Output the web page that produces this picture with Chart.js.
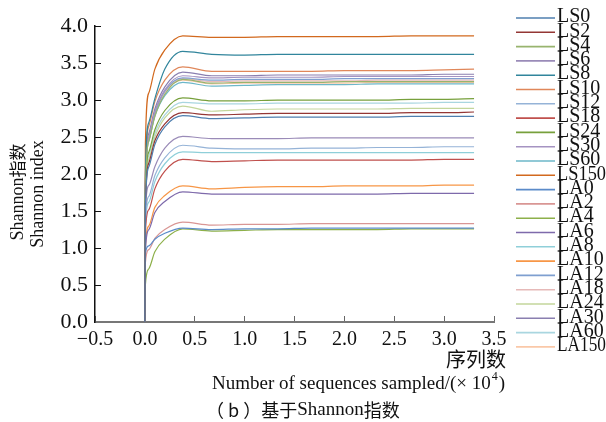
<!DOCTYPE html>
<html>
<head>
<meta charset="utf-8">
<script src="https://cdn.jsdelivr.net/npm/chart.js@4/dist/chart.umd.min.js"></script>
<style>
  body { margin: 0; background: #fff; }
  canvas { display: block; }
</style>
</head>
<body>
<canvas id="chart" width="606" height="422"></canvas>
<script>
// Curvas de rarefacción - índice de Shannon
const xs = [0, 0.005, 0.04, 0.1, 0.2, 0.38, 0.67, 1.0, 1.33, 1.67, 2.0, 2.33, 2.67, 3.0, 3.3];

const seriesNames = ['LS0', 'LS2', 'LS4', 'LS6', 'LS8', 'LS10', 'LS12', 'LS18', 'LS24', 'LS30', 'LS60', 'LS150',
                     'LA0', 'LA2', 'LA4', 'LA6', 'LA8', 'LA10', 'LA12', 'LA18', 'LA24', 'LA30', 'LA60', 'LA150'];

const LS0   = [0, 1.55, 2.10, 2.40, 2.64, 2.79, 2.75, 2.76, 2.77, 2.77, 2.77, 2.77, 2.78, 2.78, 2.78];
const LS2   = [0, 1.55, 2.15, 2.45, 2.68, 2.83, 2.80, 2.81, 2.82, 2.82, 2.82, 2.82, 2.83, 2.83, 2.84];
const LS4   = [0, 1.75, 2.45, 2.78, 3.08, 3.28, 3.23, 3.24, 3.24, 3.24, 3.25, 3.25, 3.25, 3.25, 3.25];
const LS6   = [0, 1.50, 1.85, 2.10, 2.35, 2.51, 2.48, 2.48, 2.48, 2.49, 2.49, 2.49, 2.49, 2.49, 2.49];
const LS8   = [0, 2.00, 2.70, 3.02, 3.42, 3.66, 3.62, 3.61, 3.62, 3.62, 3.62, 3.62, 3.62, 3.62, 3.62];
const LS10  = [0, 1.95, 2.65, 2.98, 3.27, 3.45, 3.39, 3.39, 3.39, 3.39, 3.40, 3.40, 3.40, 3.41, 3.42];
const LS12  = [0, 1.35, 1.70, 1.98, 2.22, 2.39, 2.35, 2.34, 2.34, 2.35, 2.35, 2.36, 2.36, 2.37, 2.37];
const LS18  = [0, 1.20, 1.52, 1.80, 2.04, 2.20, 2.17, 2.18, 2.19, 2.19, 2.19, 2.19, 2.19, 2.20, 2.20];
const LS24  = [0, 1.70, 2.30, 2.60, 2.86, 3.03, 2.99, 2.99, 3.00, 3.00, 3.00, 3.00, 3.01, 3.01, 3.02];
const LS30  = [0, 1.80, 2.50, 2.84, 3.14, 3.33, 3.30, 3.31, 3.31, 3.31, 3.32, 3.32, 3.32, 3.32, 3.32];
const LS60  = [0, 1.75, 2.45, 2.78, 3.06, 3.24, 3.19, 3.20, 3.21, 3.21, 3.21, 3.22, 3.22, 3.22, 3.22];
const LS150 = [0, 2.40, 3.10, 3.42, 3.68, 3.87, 3.85, 3.85, 3.86, 3.86, 3.86, 3.86, 3.87, 3.87, 3.87];
const LA0   = [0, 0.93, 1.03, 1.12, 1.20, 1.27, 1.25, 1.26, 1.26, 1.27, 1.27, 1.27, 1.27, 1.27, 1.27];
const LA2   = [0, 0.80, 0.98, 1.13, 1.25, 1.35, 1.31, 1.32, 1.32, 1.33, 1.33, 1.33, 1.33, 1.33, 1.33];
const LA4   = [0, 0.50, 0.72, 0.95, 1.12, 1.26, 1.23, 1.24, 1.25, 1.25, 1.25, 1.25, 1.26, 1.26, 1.26];
const LA6   = [0, 0.95, 1.25, 1.48, 1.63, 1.76, 1.73, 1.73, 1.73, 1.73, 1.73, 1.73, 1.74, 1.74, 1.74];
const LA8   = [0, 1.30, 1.62, 1.90, 2.14, 2.30, 2.29, 2.29, 2.29, 2.29, 2.29, 2.29, 2.29, 2.29, 2.29];
const LA10  = [0, 1.00, 1.30, 1.55, 1.71, 1.84, 1.80, 1.82, 1.83, 1.83, 1.84, 1.84, 1.84, 1.85, 1.85];
const LA12  = [0, 1.80, 2.50, 2.82, 3.12, 3.30, 3.27, 3.28, 3.28, 3.28, 3.29, 3.29, 3.29, 3.29, 3.29];
const LA18  = [0, 1.75, 2.45, 2.80, 3.10, 3.29, 3.25, 3.26, 3.26, 3.26, 3.26, 3.27, 3.27, 3.27, 3.27];
const LA24  = [0, 1.60, 2.20, 2.50, 2.76, 2.92, 2.85, 2.87, 2.88, 2.88, 2.88, 2.88, 2.89, 2.89, 2.89];
const LA30  = [0, 1.85, 2.55, 2.88, 3.18, 3.38, 3.33, 3.33, 3.34, 3.34, 3.34, 3.34, 3.34, 3.35, 3.35];
const LA60  = [0, 1.65, 2.25, 2.55, 2.80, 2.97, 2.95, 2.95, 2.96, 2.96, 2.96, 2.96, 2.96, 2.97, 2.97];
const LA150 = [0, 1.90, 2.55, 2.85, 3.12, 3.27, 3.22, 3.23, 3.23, 3.23, 3.23, 3.24, 3.24, 3.24, 3.24];

const seriesValues = [LS0, LS2, LS4, LS6, LS8, LS10, LS12, LS18, LS24, LS30, LS60, LS150,
                      LA0, LA2, LA4, LA6, LA8, LA10, LA12, LA18, LA24, LA30, LA60, LA150];

const seriesColors = ['#4f7faf', '#943634', '#98b46e', '#9a8bb8', '#31859c', '#e0875a', '#95b3d7', '#c0504d',
                      '#77a03c', '#a593c2', '#6cb7c9', '#d2691e',
                      '#5b8bc9', '#d99694', '#8db04a', '#7e6aab', '#8fcfd9', '#f79646', '#7f9fd0', '#e6b9b8',
                      '#c3d69b', '#8a7fb0', '#a9d6e0', '#fac8a8'];

const yTicks = [0, 0.5, 1.0, 1.5, 2.0, 2.5, 3.0, 3.5, 4.0];
const xTicks = [-0.5, 0, 0.5, 1.0, 1.5, 2.0, 2.5, 3.0, 3.5];

const serif = "'Liberation Serif', 'Times New Roman', serif";
const cjk = "'Noto Sans CJK SC', sans-serif";

const datasets = seriesNames.map((name, i) => ({
    label: name,
    data: xs.map((x, j) => ({ x: x, y: seriesValues[i][j] })),
    borderColor: seriesColors[i],
    backgroundColor: seriesColors[i],
    borderWidth: 1.2,
    pointRadius: 0,
    cubicInterpolationMode: 'monotone',
    fill: false
}));

// Textos exteriores: leyenda, títulos de ejes y pie
const textPlugin = {
    id: 'textos',
    afterDraw(chart) {
        const ctx = chart.ctx;
        ctx.save();
        // leyenda
        ctx.textBaseline = 'middle';
        ctx.textAlign = 'left';
        ctx.font = '20px ' + serif;
        seriesNames.forEach((name, i) => {
            const y = 18 + i * 14.3;
            ctx.strokeStyle = seriesColors[i];
            ctx.lineWidth = 1.6;
            ctx.beginPath();
            ctx.moveTo(516, y);
            ctx.lineTo(555, y);
            ctx.stroke();
            ctx.fillStyle = '#111';
            ctx.fillText(name, 557, y - 1, 49);
        });

        // título del eje y
        ctx.save();
        ctx.translate(18, 192);
        ctx.rotate(-Math.PI / 2);
        ctx.font = '18px ' + serif;
        const w1 = ctx.measureText('Shannon').width;
        ctx.font = '17px ' + cjk;
        const w2 = ctx.measureText('指数').width;
        const sx = -(w1 + w2) / 2;
        ctx.textAlign = 'left';
        ctx.font = '18px ' + serif;
        ctx.fillText('Shannon', sx, 0);
        ctx.font = '17px ' + cjk;
        ctx.fillText('指数', sx + w1, 0);
        ctx.restore();
        ctx.save();
        ctx.translate(38, 194);
        ctx.rotate(-Math.PI / 2);
        ctx.textAlign = 'center';
        ctx.font = '18px ' + serif;
        ctx.fillText('Shannon index', 0, 0);
        ctx.restore();

        // títulos del eje x
        ctx.textAlign = 'right';
        ctx.font = '20px ' + cjk;
        ctx.fillText('序列数', 506, 359);
        ctx.textAlign = 'left';
        ctx.font = '19px ' + serif;
        const main = 'Number of sequences sampled/(× 10';
        ctx.fillText(main, 212, 384, 280);
        const mw = Math.min(ctx.measureText(main).width, 280);
        ctx.font = '12px ' + serif;
        ctx.fillText('4', 212 + mw + 1, 377);
        ctx.font = '19px ' + serif;
        ctx.fillText(')', 212 + mw + 8, 384);

        // pie de figura
        ctx.font = '18px ' + cjk;
        ctx.fillText('（ b ）基于', 206, 410);
        const cw = ctx.measureText('（ b ）基于').width;
        ctx.font = '19px ' + serif;
        ctx.fillText('Shannon', 206 + cw, 410);
        const sw = ctx.measureText('Shannon').width;
        ctx.font = '18px ' + cjk;
        ctx.fillText('指数', 206 + cw + sw, 410);
        ctx.restore();
    }
};

const chart = new Chart(document.getElementById('chart'), {
    type: 'line',
    data: { datasets: datasets },
    options: {
        responsive: false,
        animation: false,
        devicePixelRatio: 1,
        layout: { padding: { left: 0, right: 112, top: 20, bottom: 0 } },
        plugins: {
            legend: { display: false },
            tooltip: { enabled: false }
        },
        scales: {
            x: {
                type: 'linear',
                min: -0.5,
                max: 3.5,
                afterFit: (s) => { s.height = 100; },
                afterBuildTicks: (s) => { s.ticks = xTicks.map(v => ({ value: v })); },
                grid: { drawOnChartArea: false, tickLength: -6, color: '#666', lineWidth: 1 },
                border: { color: '#777', width: 2 },
                ticks: {
                    padding: 12,
                    color: '#111',
                    font: { family: serif, size: 20 },
                    maxRotation: 0,
                    callback: (v) => (v < 0 ? '\u2212' + Math.abs(v).toFixed(1) : v.toFixed(1))
                }
            },
            y: {
                type: 'linear',
                min: 0,
                max: 4,
                afterFit: (s) => { s.width = 95; },
                afterBuildTicks: (s) => { s.ticks = yTicks.map(v => ({ value: v })); },
                grid: { drawOnChartArea: false, tickLength: -6, color: '#111', lineWidth: 1 },
                border: { color: '#111', width: 1.5 },
                ticks: {
                    padding: 13,
                    color: '#111',
                    font: { family: serif, size: 22 },
                    callback: (v) => v.toFixed(1)
                }
            }
        }
    },
    plugins: [textPlugin]
});
</script>
</body>
</html>
